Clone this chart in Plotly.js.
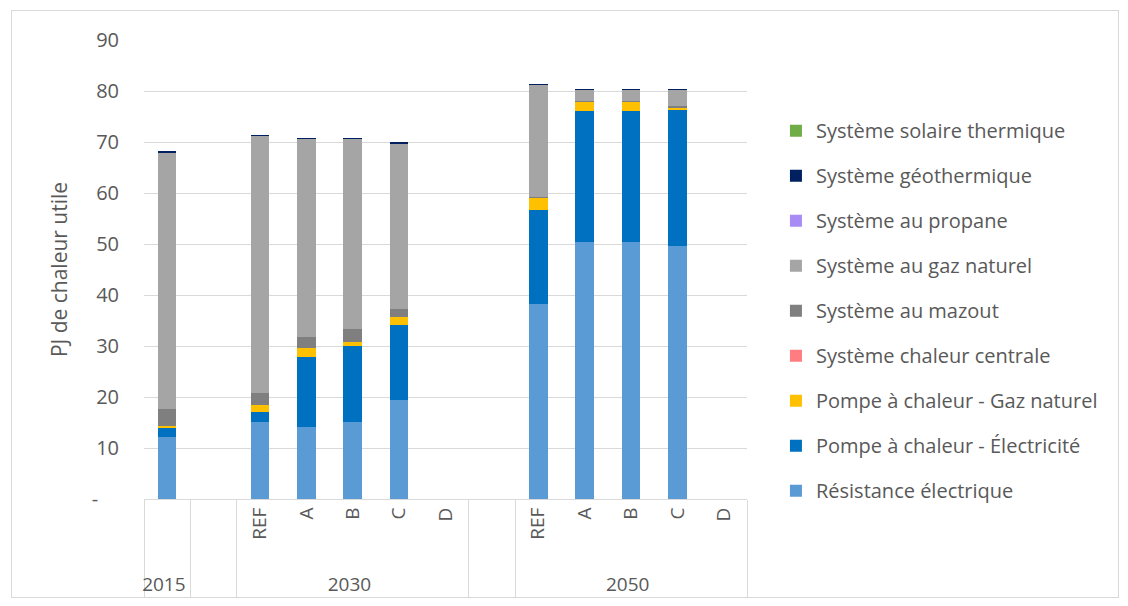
<!DOCTYPE html>
<html>
<head>
<meta charset="utf-8">
<script src="https://cdn.plot.ly/plotly-3.0.1.min.js"></script>
<style>
  html, body { margin: 0; padding: 0; background: #ffffff; }
  #frame { position: absolute; left: 11px; top: 10px; width: 1106px; height: 586px; border: 1px solid #d9d9d9; }
  #chart { position: absolute; left: 0; top: 0; width: 1128px; height: 606px; }
</style>
</head>
<body>
<div id="frame"></div>
<div id="chart"></div>
<script>
// Category levels (outer group, inner scenario)
const years = ['2015', ' ', '2030', '2030', '2030', '2030', '2030', '  ', '2050', '2050', '2050', '2050', '2050'];
const scenarios = ['\u00a0', '\u00a0', '\u00a0\u00a0\u00a0REF', 'A', 'B', 'C', 'D', '\u00a0', '\u00a0\u00a0\u00a0REF', 'A', 'B', 'C', 'D'];

// Series values (PJ de chaleur utile), bottom to top of the stack
const resistanceElectrique = [12.2, null, 15.1, 14.1, 15.1, 19.4, null, null, 38.2, 50.4, 50.4, 49.6, null];
const pacElectricite       = [1.7,  null, 2.0, 13.7, 14.9, 14.7, null, null, 18.5, 25.7, 25.7, 26.7, null];
const pacGazNaturel        = [0.4,  null, 1.3, 1.8, 0.8, 1.6, null, null, 2.3, 1.7, 1.7, 0.4, null];
const chaleurCentrale      = [0, null, 0, 0, 0, 0, null, null, 0, 0, 0, 0, null];
const mazout               = [3.3,  null, 2.4, 2.2, 2.5, 1.5, null, null, 0.3, 0.3, 0.3, 0.3, null];
const gazNaturel           = [50.3, null, 50.3, 38.7, 37.2, 32.5, null, null, 21.8, 2.0, 2.0, 3.1, null];
const propane              = [0, null, 0, 0, 0, 0, null, null, 0, 0, 0, 0, null];
const geothermique         = [0.3,  null, 0.3, 0.3, 0.3, 0.3, null, null, 0.3, 0.3, 0.3, 0.3, null];
const solaireThermique     = [0, null, 0, 0, 0, 0, null, null, 0, 0, 0, 0, null];

// Y tick labels
const yTickVals = [0, 10, 20, 30, 40, 50, 60, 70, 80, 90];
const yTickText = ['-\u00a0\u00a0\u00a0\u00a0', '10', '20', '30', '40', '50', '60', '70', '80', '90'];

const series = [
  {name: 'Résistance électrique', y: resistanceElectrique, color: '#5B9BD5'},
  {name: 'Pompe à chaleur - Électricité', y: pacElectricite, color: '#0070C0'},
  {name: 'Pompe à chaleur - Gaz naturel', y: pacGazNaturel, color: '#FFC000'},
  {name: 'Système chaleur centrale', y: chaleurCentrale, color: '#FF7C80'},
  {name: 'Système au mazout', y: mazout, color: '#7F7F7F'},
  {name: 'Système au gaz naturel', y: gazNaturel, color: '#A5A5A5'},
  {name: 'Système au propane', y: propane, color: '#A98BF5'},
  {name: 'Système géothermique', y: geothermique, color: '#002060'},
  {name: 'Système solaire thermique', y: solaireThermique, color: '#70AD47'}
];

const FONT = 'Open Sans, sans-serif';
const TXT = '#595959';

const traces = series.map((s, i) => ({
  type: 'bar',
  name: s.name,
  x: [years, scenarios],
  y: s.y,
  marker: {color: s.color, line: {width: 0}},
  legendgroup: 'g' + i,
  legendrank: 100 - i,
  hoverinfo: 'name+y'
}));

const layout = {
  width: 1128,
  height: 606,
  margin: {l: 144, r: 381, t: 40, b: 107},
  paper_bgcolor: 'rgba(0,0,0,0)',
  plot_bgcolor: 'rgba(0,0,0,0)',
  barmode: 'stack',
  bargap: 0.6,
  font: {family: FONT, size: 18, color: TXT},
  showlegend: true,
  legend: {
    x: 1.048, xanchor: 'left',
    y: 0.845, yanchor: 'top',
    traceorder: 'grouped',
    tracegroupgap: 16,
    font: {family: FONT, size: 20, color: TXT},
    bgcolor: 'rgba(0,0,0,0)'
  },
  xaxis: {
    type: 'multicategory',
    tickangle: -90,
    tickfont: {family: FONT, size: 19, color: TXT},
    showline: true,
    linecolor: '#d9d9d9',
    linewidth: 1,
    showgrid: false,
    ticks: '',
    showdividers: true,
    dividercolor: '#d9d9d9',
    dividerwidth: 1,
    fixedrange: true
  },
  yaxis: {
    range: [0, 90],
    tickvals: yTickVals,
    ticktext: yTickText,
    tickfont: {family: FONT, size: 20, color: TXT},
    ticklabelstandoff: 24,
    showgrid: true,
    gridcolor: '#d9d9d9',
    gridwidth: 1,
    zeroline: false,
    showline: false,
    ticks: '',
    title: {text: 'PJ de chaleur utile', font: {family: FONT, size: 21, color: TXT}, standoff: 18},
    fixedrange: true
  }
};

Plotly.newPlot('chart', traces, layout, {displayModeBar: false, staticPlot: true});
</script>
</body>
</html>
